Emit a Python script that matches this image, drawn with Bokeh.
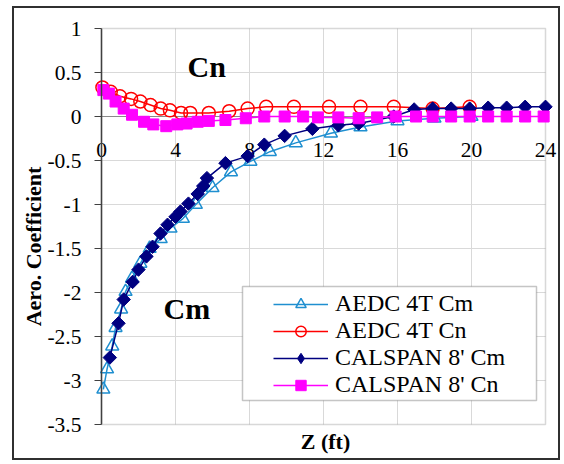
import math
from bokeh.plotting import figure
from bokeh.models import (Range1d, FixedTicker, Label, Legend, LegendItem, BoxAnnotation)
from bokeh.embed import file_html
from bokeh.resources import INLINE

SERIF = "Liberation Serif"

# ---------------- data ----------------
z_aedc_cm = [0.1, 0.3, 0.58, 0.76, 1.06, 1.3, 1.65, 2.1, 2.6, 3.2, 3.73, 4.4, 5.1, 6.0,
             7.0, 8.05, 9.1, 10.5, 12.4, 14.0, 16.0, 18.0, 20.0]
cm_aedc = [-3.1, -2.87, -2.61, -2.4, -2.19, -1.99, -1.84, -1.67, -1.5, -1.39, -1.27, -1.16,
           -1.0, -0.81, -0.63, -0.51, -0.4, -0.3, -0.19, -0.12, -0.05, -0.02, 0.0]

z_aedc_cn = [0.05, 0.5, 1.0, 1.6, 2.1, 2.65, 3.2, 3.7, 4.3, 4.8, 5.8, 6.9, 7.9, 8.9,
             10.4, 12.3, 14.0, 15.8, 17.9, 19.9]
cn_aedc = [0.33, 0.28, 0.23, 0.2, 0.17, 0.13, 0.09, 0.07, 0.04, 0.04, 0.04, 0.06, 0.09,
           0.11, 0.11, 0.11, 0.11, 0.11, 0.09, 0.11]

z_calspan_cm = [0.45, 0.92, 1.2, 1.68, 2.0, 2.43, 2.76, 3.19, 3.57, 4.0, 4.27, 4.7, 5.2,
                5.5, 5.7, 6.7, 7.9, 8.8, 9.9, 11.4, 12.8, 13.9, 15.8, 16.9, 17.9, 18.9,
                19.9, 20.9, 21.9, 22.9, 24.0]
cm_calspan = [-2.74, -2.35, -2.08, -1.88, -1.74, -1.59, -1.48, -1.33, -1.23, -1.14, -1.08,
              -0.99, -0.88, -0.79, -0.70, -0.53, -0.45, -0.32, -0.22, -0.14, -0.1, -0.08,
              0.0, 0.08, 0.09, 0.09, 0.09, 0.1, 0.1, 0.11, 0.11]

z_calspan_cn = [0.1, 0.4, 0.76, 1.2, 1.65, 2.3, 2.8, 3.5, 4.1, 4.6, 5.2, 5.8, 6.7, 7.8,
                8.8, 9.9, 10.9, 11.7, 12.8, 13.9, 14.9, 15.9, 17.0, 17.9, 18.9, 19.9,
                20.9, 21.9, 22.9, 23.9]
cn_calspan = [0.3, 0.26, 0.17, 0.09, 0.02, -0.06, -0.09, -0.11, -0.09, -0.08, -0.06, -0.05,
              -0.04, -0.02, 0.0, 0.0, 0.0, -0.01, -0.01, -0.02, -0.01, 0.0, 0.0, 0.0, 0.0,
              0.0, 0.0, 0.0, 0.0, 0.0]

x_ticks = [0, 4, 8, 12, 16, 20, 24]
x_tick_labels = ["0", "4", "8", "12", "16", "20", "24"]
y_ticks = [1, 0.5, 0, -0.5, -1, -1.5, -2, -2.5, -3, -3.5]
y_tick_labels = ["1", "0.5", "0", "-0.5", "-1", "-1.5", "-2", "-2.5", "-3", "-3.5"]

series_names = ["AEDC 4T Cm", "AEDC 4T Cn", "CALSPAN 8' Cm", "CALSPAN 8' Cn"]

BLUE = "#1f8fd0"
RED = "#ff0000"
NAVY = "#000080"
MAGENTA = "#ff00ff"

# ---------------- layout (pixels inside the bordered canvas) ----------------
CW, CH = 548, 454                 # canvas size
PL, PR, PT, PB = 87, 531, 20, 416  # plot area edges in canvas pixels
X0, X1 = min(x_ticks), max(x_ticks)
Y0, Y1 = min(y_ticks), max(y_ticks)
xs = (PR - PL) / (X1 - X0)
ys = (PB - PT) / (Y1 - Y0)
x_range = Range1d(X0 - PL / xs, X1 + (CW - PR) / xs)
y_range = Range1d(Y0 - (CH - PB) / ys, Y1 + PT / ys)

p = figure(width=CW, height=CH, output_backend="svg", toolbar_location=None,
           x_range=x_range, y_range=y_range,
           min_border_left=0, min_border_right=0, min_border_top=0, min_border_bottom=0)
p.styles = {"margin-left": "12px", "margin-top": "6px", "border": "2px solid #303030"}
p.background_fill_color = "white"
p.border_fill_color = "white"
p.outline_line_color = None
p.grid.visible = False

# grid lines inside the plot area
GRID = "#d9d9d9"
inner_x = x_ticks[1:-1]
inner_y = y_ticks[1:-1]
p.segment(x0=inner_x, y0=[Y0] * len(inner_x), x1=inner_x, y1=[Y1] * len(inner_x),
          line_color=GRID, line_width=1, level="underlay")
p.segment(x0=[X0] * len(inner_y), y0=inner_y, x1=[X1] * len(inner_y), y1=inner_y,
          line_color=GRID, line_width=1, level="underlay")

# plot area border
p.add_layout(BoxAnnotation(left=X0, right=X1, bottom=Y0, top=Y1, fill_alpha=0,
                           line_color="#7f7f7f", line_width=1.5, level="underlay"))

# x axis crossing at zero
xa = p.xaxis[0]
xa.fixed_location = 0
xa.bounds = (X0, X1)
xa.ticker = FixedTicker(ticks=x_ticks)
xa.major_label_overrides = {t: s for t, s in zip(x_ticks, x_tick_labels)}
xa.axis_line_color = "#8a8a8a"
xa.axis_line_width = 1
xa.major_tick_line_color = None
xa.minor_tick_line_color = None
xa.major_tick_out = 0
xa.major_tick_in = 0
xa.major_label_standoff = 26
xa.major_label_text_font = SERIF
xa.major_label_text_font_size = "21.5px"
xa.major_label_text_color = "black"
xa.level = "underlay"

# y axis at x = 0
ya = p.yaxis[0]
ya.fixed_location = 0
ya.bounds = (Y0, Y1)
ya.ticker = FixedTicker(ticks=y_ticks)
ya.major_label_overrides = {t: s for t, s in zip(y_ticks, y_tick_labels)}
ya.axis_line_color = "#404040"
ya.axis_line_width = 1.5
ya.major_tick_line_color = "#404040"
ya.major_tick_out = 7
ya.major_tick_in = 0
ya.minor_tick_line_color = None
ya.major_label_text_font = SERIF
ya.major_label_text_font_size = "21.5px"
ya.major_label_text_color = "black"
ya.major_label_standoff = 13

# axis titles
p.add_layout(Label(x=17, y=236, x_units="canvas", y_units="canvas",
                   text="Aero. Coefficient", angle=math.pi / 2,
                   text_align="center", text_baseline="middle",
                   text_font=SERIF, text_font_style="bold", text_font_size="22px",
                   text_color="black"))
p.add_layout(Label(x=309, y=431, x_units="canvas", y_units="canvas",
                   text="Z (ft)", text_align="center", text_baseline="middle",
                   text_font=SERIF, text_font_style="bold", text_font_size="22px",
                   text_color="black"))

# ---------------- series ----------------
l1 = p.line(z_aedc_cm, cm_aedc, line_color=BLUE, line_width=1.5)
m1 = p.scatter(z_aedc_cm, cm_aedc, marker="triangle", size=13, line_color=BLUE,
               line_width=1.5, fill_alpha=0)
l2 = p.line(z_aedc_cn, cn_aedc, line_color=RED, line_width=1.5)
m2 = p.scatter(z_aedc_cn, cn_aedc, marker="circle", size=13, line_color=RED,
               line_width=1.5, fill_alpha=0)
l3 = p.line(z_calspan_cm, cm_calspan, line_color=NAVY, line_width=1.5)
m3 = p.scatter(z_calspan_cm, cm_calspan, marker="square", angle=math.pi / 4, size=9.5,
               line_color=NAVY, fill_color=NAVY)
# legend-only diamond glyph (no visible point)
k3 = p.scatter(x=[float("nan")], y=[float("nan")], marker="diamond", size=15,
               line_color=NAVY, fill_color=NAVY)
l4 = p.line(z_calspan_cn, cn_calspan, line_color=MAGENTA, line_width=1.5)
m4 = p.scatter(z_calspan_cn, cn_calspan, marker="square", size=11, line_color=MAGENTA,
               fill_color=MAGENTA)

# text labels
p.add_layout(Label(x=4.65, y=0.566, text="Cn", text_font=SERIF, text_font_style="bold",
                   text_font_size="30px", text_color="black", text_baseline="middle"))
p.add_layout(Label(x=3.35, y=-2.184, text="Cm", text_font=SERIF, text_font_style="bold",
                   text_font_size="30px", text_color="black", text_baseline="middle"))

# legend box + legend
p.add_layout(BoxAnnotation(left=226, right=520, top=276, bottom=390,
                           left_units="canvas", right_units="canvas",
                           top_units="canvas", bottom_units="canvas",
                           fill_color="white", fill_alpha=1, line_color="#404040",
                           line_width=1.5, level="annotation"))
legend = Legend(items=[LegendItem(label=series_names[0], renderers=[l1, m1]),
                       LegendItem(label=series_names[1], renderers=[l2, m2]),
                       LegendItem(label=series_names[2], renderers=[l3, k3]),
                       LegendItem(label=series_names[3], renderers=[l4, m4])],
                location=(259, 64), border_line_alpha=0, background_fill_alpha=0,
                label_text_font=SERIF, label_text_font_size="24px",
                label_text_color="black", glyph_width=55, glyph_height=26,
                label_height=26, spacing=-1, padding=0, margin=0, label_standoff=7)
p.add_layout(legend)

open("out.html", "w").write(file_html(p, INLINE))
